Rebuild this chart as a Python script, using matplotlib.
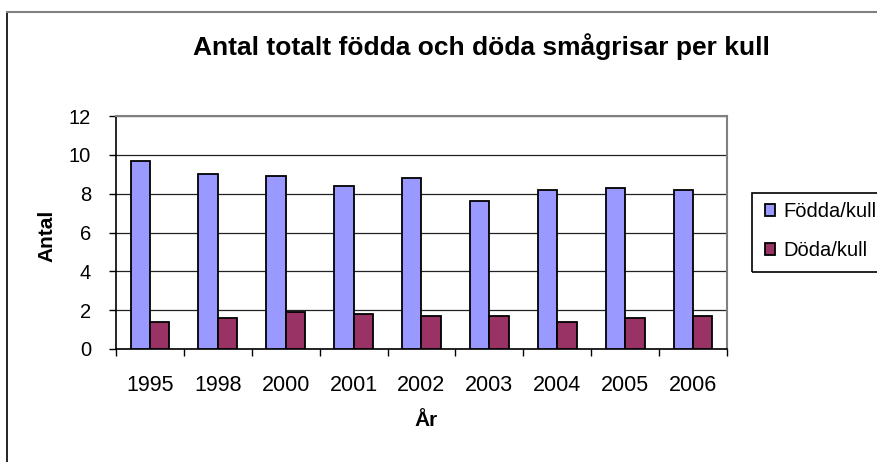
import matplotlib
matplotlib.use("Agg")
import matplotlib.pyplot as plt
from matplotlib.patches import Rectangle
from matplotlib.lines import Line2D
import numpy as np

plt.rcParams['font.family'] = ['Liberation Sans', 'DejaVu Sans']

years = ["1995", "1998", "2000", "2001", "2002", "2003", "2004", "2005", "2006"]
fodda = [9.7, 9.0, 8.9, 8.4, 8.8, 7.6, 8.2, 8.3, 8.2]
doda = [1.4, 1.6, 1.9, 1.8, 1.7, 1.7, 1.4, 1.6, 1.7]
series_names = ["Födda/kull", "Döda/kull"]
title = "Antal totalt födda och döda smågrisar per kull"
xlabel = "År"
ylabel = "Antal"

W, H = 878, 462
fig = plt.figure(figsize=(W / 100, H / 100), dpi=100)
ax = fig.add_axes([116 / W, 1 - 349 / H, (727 - 116) / W, (349 - 116) / H])

x = np.arange(len(years))
bw = 0.286
ax.bar(x - bw / 2, fodda, bw, color="#9999FF", edgecolor="black", linewidth=1.3,
       label=series_names[0], zorder=3)
ax.bar(x + bw / 2, doda, bw, color="#993366", edgecolor="black", linewidth=1.3,
       label=series_names[1], zorder=3)

ax.set_xlim(-0.5, len(years) - 0.5)
ax.set_ylim(0, 12)
ax.set_yticks(np.arange(0, 13, 2))
ax.yaxis.grid(True, color="#222222", linewidth=0.9, zorder=0)
ax.set_axisbelow(True)

ax.set_xticks(x)
ax.set_xticklabels(years)
ax.set_xticks(np.arange(-0.5, len(years), 1), minor=True)
ax.tick_params(axis="x", which="major", length=0, pad=19, labelsize=15.5)
ax.tick_params(axis="x", which="minor", length=5, width=1, direction="out", color="black")
ax.tick_params(axis="y", length=5, width=1, direction="out", pad=13, labelsize=14.5)

for s in ["left", "bottom"]:
    ax.spines[s].set_color("black")
    ax.spines[s].set_linewidth(1.2)
for s in ["top", "right"]:
    ax.spines[s].set_color("#808080")
    ax.spines[s].set_linewidth(1.5)

ax.set_ylabel(ylabel, fontsize=15, fontweight="bold")
ax.yaxis.set_label_coords((47 - 116) / 611, 0.485)
ax.yaxis.label.set_va("center")
ax.set_xlabel(xlabel, fontsize=15, fontweight="bold")
ax.xaxis.set_label_coords((426 - 116) / 611, (349 - 421) / 233)
ax.xaxis.label.set_va("center")

fig.text(481 / W, 1 - 55 / H, title, ha="center", va="baseline", fontsize=19,
         fontweight="bold")

# chart area frame (left and top visible; rest cropped)
fig.add_artist(Line2D([7 / W, 7 / W], [0, 1 - 12 / H], color="black", linewidth=1.2,
                      transform=fig.transFigure))
fig.add_artist(Line2D([7 / W, 1], [1 - 12 / H, 1 - 12 / H], color="#808080", linewidth=1.5,
                      transform=fig.transFigure))

# legend
fig.add_artist(Rectangle((752 / W, 1 - 272 / H), 0.5, (272 - 193) / H, fill=False,
                         edgecolor="black", linewidth=1.2, transform=fig.transFigure))
fig.legend(loc="upper left", bbox_to_anchor=(765 / W, 1 - 202 / H), frameon=False,
           fontsize=14.5, handlelength=0.5, handleheight=0.5, handletextpad=0.4,
           labelspacing=1.0, borderpad=0, borderaxespad=0)

fig.savefig("out.png", dpi=100)
